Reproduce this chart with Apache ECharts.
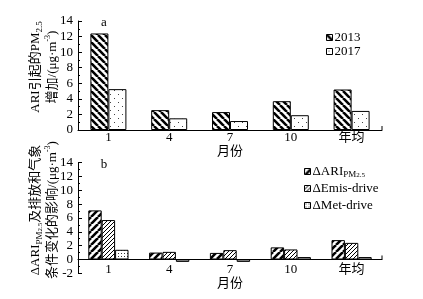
<!DOCTYPE html>
<html>
<head>
<meta charset="utf-8">
<script src="https://cdn.jsdelivr.net/npm/echarts@6/dist/echarts.min.js"></script>
<style>
html, body { margin: 0; padding: 0; background: #fff; }
#main { width: 423px; height: 299px; }
</style>
</head>
<body>
<div id="main"></div>
<script>
// 数据
var months = ['1', '4', '7', '10', '年均'];
var ari2013 = [12.4, 2.55, 2.3, 3.7, 5.2];
var ari2017 = [5.25, 1.5, 1.15, 1.9, 2.45];
var dARI = [7.1, 1.0, 0.95, 1.75, 2.8];
var dEmis = [5.7, 1.1, 1.35, 1.45, 2.4];
var dMet = [1.4, -0.35, -0.35, 0.35, 0.35];
var yTicksTop = [0, 14, 2];
var yTicksBot = [-2, 14, 2];

var FONT = "'Liberation Serif', 'Noto Sans CJK SC', serif";

//斜线填充
function stripe(size, lw, dir) {
    var c = document.createElement('canvas');
    c.width = c.height = size;
    var g = c.getContext('2d');
    g.fillStyle = '#fff';
    g.fillRect(0, 0, size, size);
    g.strokeStyle = '#000';
    g.lineWidth = lw;
    g.beginPath();
    for (var k = -1; k <= 1; k++) {
        if (dir > 0) {
            g.moveTo(k * size, size);
            g.lineTo(k * size + size, 0);
        } else {
            g.moveTo(k * size, 0);
            g.lineTo(k * size + size, size);
        }
    }
    g.stroke();
    return { image: c, repeat: 'repeat' };
}

//点填充
function dots(size, pts, col) {
    var c = document.createElement('canvas');
    c.width = c.height = size;
    var g = c.getContext('2d');
    g.fillStyle = '#fff';
    g.fillRect(0, 0, size, size);
    g.fillStyle = col;
    for (var i = 0; i < pts.length; i++) {
        g.fillRect(pts[i][0], pts[i][1], 1, 1);
    }
    return { image: c, repeat: 'repeat' };
}

var p2013 = stripe(7, 2.6, -1);
var p2017 = dots(8, [[2, 2], [6, 6]], '#444');
var pARI = stripe(7, 2.6, 1);
var pEmis = stripe(4, 1, 1);
var pMet = dots(3, [[1, 1]], '#333');

var gL = 78, gR = 41;
var top0 = 21, h0 = 109;
var top1 = 162.7, h1 = 110.6;

function yAxisOf(idx, t) {
    return {
        type: 'value', gridIndex: idx,
        min: t[0], max: t[1], interval: t[2],
        splitLine: { show: false },
        axisLine: { show: true, lineStyle: { color: '#000', width: 1 } },
        axisTick: { show: true, inside: true, length: 4, lineStyle: { color: '#000' } },
        minorTick: { show: true, splitNumber: 2, length: 2, lineStyle: { color: '#000' } },
        axisLabel: { color: '#000', fontFamily: FONT, fontSize: 13, margin: 5 }
    };
}

function xAxisOf(idx, margin, gap) {
    return {
        type: 'category', gridIndex: idx, data: months,
        name: '月份', nameLocation: 'middle', nameGap: gap,
        nameTextStyle: { color: '#000', fontFamily: FONT, fontSize: 13 },
        axisLine: { onZero: true, lineStyle: { color: '#000', width: 1 } },
        axisTick: { show: false },
        axisLabel: { color: '#000', fontFamily: FONT, fontSize: 13, margin: margin }
    };
}

function bar(name, data, color, xi, w) {
    return {
        name: name, type: 'bar', xAxisIndex: xi, yAxisIndex: xi,
        data: data, barWidth: w, barGap: '0%',
        itemStyle: { color: color, borderColor: '#000', borderWidth: 1 },
        emphasis: { disabled: true }, animation: false
    };
}

var nameRich = {
    sub: { fontSize: 9, fontFamily: FONT, verticalAlign: 'bottom', lineHeight: 9 },
    sup: { fontSize: 8, fontFamily: FONT, verticalAlign: 'top', lineHeight: 8 },
    s1: { fontSize: 9, fontFamily: FONT, verticalAlign: 'bottom', lineHeight: 9 },
    s2: { fontSize: 7, fontFamily: FONT, verticalAlign: 'bottom', lineHeight: 5 }
};

var option = {
    backgroundColor: '#fff',
    animation: false,
    grid: [
        { left: gL, right: gR, top: top0, height: h0, outerBoundsMode: 'none', containLabel: false },
        { left: gL, right: gR, top: top1, height: h1, outerBoundsMode: 'none', containLabel: false }
    ],
    xAxis: [xAxisOf(0, 1, 13), xAxisOf(1, -10, 4)],
    yAxis: [yAxisOf(0, yTicksTop), yAxisOf(1, yTicksBot)],
    legend: [
        {
            data: ['2013', '2017'], orient: 'vertical', left: 326, top: 31,
            padding: 0, itemGap: 1, itemWidth: 6, itemHeight: 6, icon: 'rect',
            itemStyle: { borderColor: '#000', borderWidth: 1 },
            textStyle: { color: '#000', fontFamily: FONT, fontSize: 13, lineHeight: 13, padding: [0, 0, 0, -3] }
        },
        {
            data: ['ΔARI', 'ΔEmis-drive', 'ΔMet-drive'], orient: 'vertical', left: 304, top: 164,
            padding: 0, itemGap: 2, itemWidth: 6, itemHeight: 6, icon: 'rect',
            itemStyle: { borderColor: '#000', borderWidth: 1 },
            formatter: function (n) {
                return n === 'ΔARI' ? 'ΔARI{s1|PM}{s2|2.5}' : n;
            },
            textStyle: { color: '#000', fontFamily: FONT, fontSize: 13, lineHeight: 15, padding: [0, 0, 0, -3], rich: nameRich }
        }
    ],
    graphic: [
        {
            type: 'text', x: 44, y: 67, rotation: Math.PI / 2,
            style: {
                text: 'ARI引起的PM{sub|2.5}\n增加/(μg·m{sup|-3})',
                fontFamily: FONT, fontSize: 13, lineHeight: 17, fill: '#000',
                align: 'center', verticalAlign: 'middle', rich: nameRich
            }
        },
        {
            type: 'text', x: 44, y: 210, rotation: Math.PI / 2,
            style: {
                text: 'ΔARI{s1|PM}{s2|2.5}及排放和气象\n条件变化的影响/(μg·m{sup|-3})',
                fontFamily: FONT, fontSize: 13, lineHeight: 17, fill: '#000',
                align: 'center', verticalAlign: 'middle', rich: nameRich
            }
        },
        { type: 'text', x: 104, y: 23, style: { text: 'a', fontFamily: FONT, fontSize: 13, fill: '#000', align: 'center', verticalAlign: 'middle' } },
        { type: 'text', x: 104, y: 165, style: { text: 'b', fontFamily: FONT, fontSize: 13, fill: '#000', align: 'center', verticalAlign: 'middle' } },
        { type: 'line', shape: { x1: 423 - gR, y1: top0 + h0, x2: 423 - gR, y2: top0 + h0 - 4 }, style: { stroke: '#000', lineWidth: 1 } },
        { type: 'line', shape: { x1: 423 - gR, y1: top1 + h1 * 14 / 16, x2: 423 - gR, y2: top1 + h1 * 14 / 16 - 4 }, style: { stroke: '#000', lineWidth: 1 } }
    ],
    series: [
        bar('2013', ari2013, p2013, 0, 18),
        bar('2017', ari2017, p2017, 0, 18),
        bar('ΔARI', dARI, pARI, 1, 13.4),
        bar('ΔEmis-drive', dEmis, pEmis, 1, 13.4),
        bar('ΔMet-drive', dMet, pMet, 1, 13.4)
    ]
};

var chart = echarts.init(document.getElementById('main'));
chart.setOption(option);
</script>
</body>
</html>
